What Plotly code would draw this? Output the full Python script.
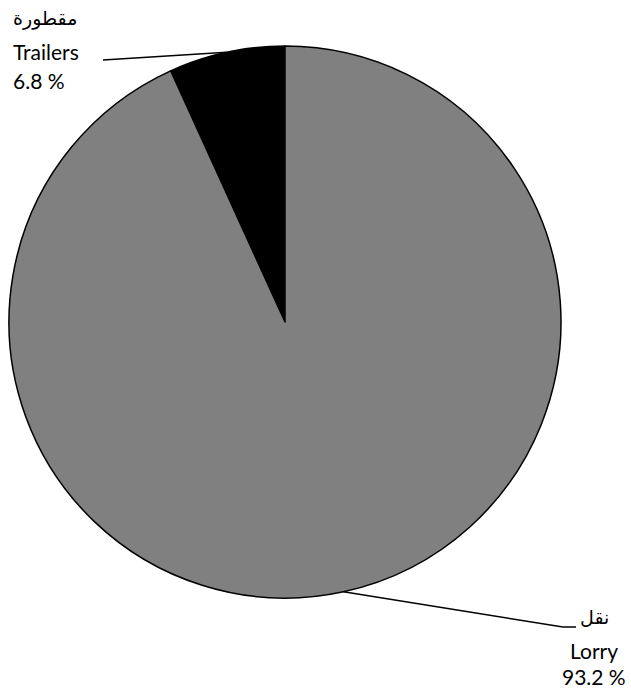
import math
import plotly.graph_objects as go

labels_en = ["Trailers", "Lorry"]
labels_ar = ["مقطورة", "نقل"]
values = [6.8, 93.2]
colors = ["#000000", "#808080"]

W, H = 631, 690
cx, cy, r = 285, 322, 276

fig = go.Figure(go.Pie(
    labels=labels_en, values=values, sort=False, direction="clockwise",
    rotation=360 - values[0] / sum(values) * 360, textinfo="none", hoverinfo="label+percent",
    marker=dict(colors=colors, line=dict(color="#000000", width=1.5)),
    domain=dict(x=[(cx - r) / W, (cx + r) / W], y=[1 - (cy + r) / H, 1 - (cy - r) / H]),
    showlegend=False,
))

# leader lines from slice midpoints (Trailers to the left of 12 o'clock)
total = sum(values)
mids = []
acc = 0
for v in values:
    mid = (acc + v / 2) / total * 2 * math.pi
    acc += v
    px = cx - r * math.sin(mid)
    py = cy - r * math.cos(mid)
    mids.append((px, py))

def P(x, y):
    return x / W, 1 - y / H

line = dict(color="black", width=1.5)
shapes = []
x0, y0 = P(*mids[0]); x1, y1 = P(103, 60)
shapes.append(dict(type="line", xref="paper", yref="paper", x0=x0, y0=y0, x1=x1, y1=y1, line=line))
x0, y0 = P(*mids[1]); x1, y1 = P(563, 627)
shapes.append(dict(type="line", xref="paper", yref="paper", x0=x0, y0=y0, x1=x1, y1=y1, line=line))
x0, y0 = P(563, 627); x1, y1 = P(576, 627)
shapes.append(dict(type="line", xref="paper", yref="paper", x0=x0, y0=y0, x1=x1, y1=y1, line=line))

font = dict(family="Lato, DejaVu Sans", size=21, color="black")
font_ar = dict(family="DejaVu Sans, Noto Sans", size=19, color="black")
ann = []
top_lines = [labels_ar[0], labels_en[0], f"{values[0]} %"]
for i, (t, yy) in enumerate(zip(top_lines, [19, 51, 81])):
    x, y = P(11, yy)
    ann.append(dict(text=t, x=x, y=y, xref="paper", yref="paper", xanchor="left",
                    yanchor="middle", showarrow=False, font=font_ar if i == 0 else font))
bot_lines = [labels_ar[1], labels_en[1], f"{values[1]} %"]
for i, (t, yy) in enumerate(zip(bot_lines, [617, 650, 676])):
    x, y = P(594, yy)
    ann.append(dict(text=t, x=x, y=y, xref="paper", yref="paper", xanchor="center",
                    yanchor="middle", showarrow=False, font=font_ar if i == 0 else font))

fig.update_layout(width=W, height=H, margin=dict(l=0, r=0, t=0, b=0),
                  paper_bgcolor="white", plot_bgcolor="white",
                  shapes=shapes, annotations=ann)
fig.write_html("out.html", config={"displayModeBar": False},
               post_script="document.body.style.margin='0';")
